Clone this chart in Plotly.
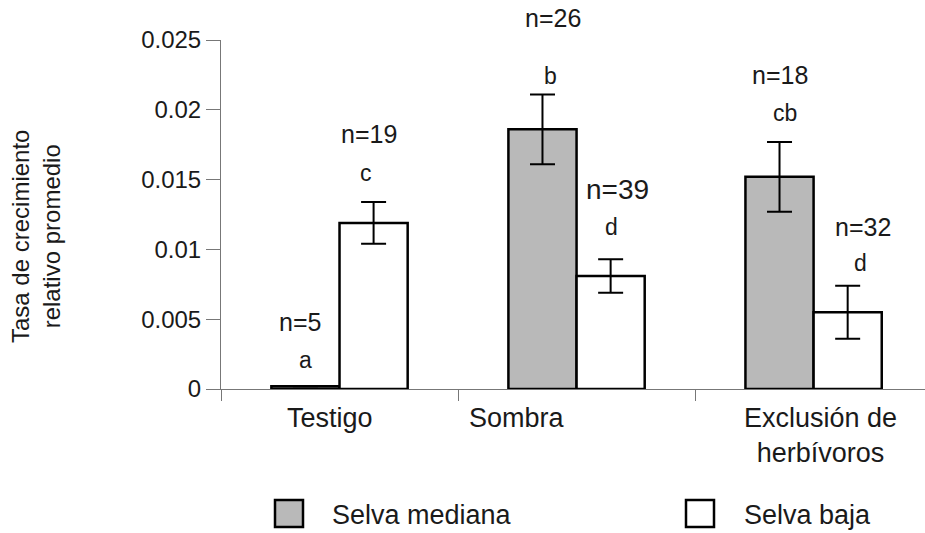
import plotly.graph_objects as go

# ---- data ----
categories = ["Testigo", "Sombra", "Exclusión de<br>herbívoros"]
series_names = ["Selva mediana", "Selva baja"]
mediana_vals = [0.0002, 0.0186, 0.0152]
mediana_err = [None, 0.0025, 0.0025]
baja_vals = [0.0119, 0.0081, 0.0055]
baja_err = [0.0015, 0.0012, 0.0019]
mediana_letters = ["a", "b", "cb"]
baja_letters = ["c", "d", "d"]
mediana_n = ["n=5", "n=26", "n=18"]
baja_n = ["n=19", "n=39", "n=32"]
y_ticks = [0, 0.005, 0.01, 0.015, 0.02, 0.025]
y_ticktext = ["0", "0.005", "0.01", "0.015", "0.02", "0.025"]
Y_MAX = 0.025

# label heights (data units)
mediana_letter_y = [0.0021, 0.0224, 0.0198]
baja_letter_y = [0.0155, 0.0116, 0.0090]
mediana_n_y = [0.0048, 0.0266, 0.0225]
baja_n_y = [0.0183, 0.0143, 0.0116]

W, H = 925, 533
L, R, T, B = 221, 0, 40, 144
PW, PH = W - L - R, H - T - B
FONT = "Liberation Sans, Arial, Helvetica, sans-serif"
TXT = "#1a1a1a"
GRAY = "#b9b9b9"
AX = "#777777"

x = list(range(len(categories)))
BARGAP = 0.425
half = (1 - BARGAP) / 4  # offset of each bar centre from category centre

fig = go.Figure()
fig.add_trace(go.Bar(
    x=x, y=mediana_vals, name=series_names[0],
    marker=dict(color=GRAY, line=dict(color="black", width=2.5)),
    error_y=dict(type="data", array=mediana_err, visible=True,
                 color="black", thickness=2, width=12.5),
))
fig.add_trace(go.Bar(
    x=x, y=baja_vals, name=series_names[1],
    marker=dict(color="white", line=dict(color="black", width=2.5)),
    error_y=dict(type="data", array=baja_err, visible=True,
                 color="black", thickness=2, width=12.5),
))

ann = []
# significance letters and n labels (y given in data units, drawn in axis-domain fraction)
mx_shift_letter = [0, 8, 5]
mx_shift_n = [-5, 11, 0]
bx_shift_letter = [-8, 1, 13]
bx_shift_n = [-5, 7, 15]
for i in x:
    ann.append(dict(x=i - half, y=mediana_letter_y[i] / Y_MAX, text=mediana_letters[i],
                    xshift=mx_shift_letter[i], font=dict(size=23)))
    ann.append(dict(x=i - half, y=mediana_n_y[i] / Y_MAX, text=mediana_n[i],
                    xshift=mx_shift_n[i], font=dict(size=25)))
    ann.append(dict(x=i + half, y=baja_letter_y[i] / Y_MAX, text=baja_letters[i],
                    xshift=bx_shift_letter[i], font=dict(size=23)))
    ann.append(dict(x=i + half, y=baja_n_y[i] / Y_MAX, text=baja_n[i],
                    xshift=bx_shift_n[i], font=dict(size=28 if i == 1 else 25)))
for a in ann:
    a.update(xref="x", yref="paper", showarrow=False, yanchor="middle",
             xanchor="center")

# category labels
cat_label_x = [-0.04, 0.75, 2.03]
for i, c in enumerate(categories):
    ann.append(dict(x=cat_label_x[i], y=0, xref="x", yref="paper", text=c,
                    showarrow=False, yanchor="top", xanchor="center", yshift=-12,
                    font=dict(size=27)))


def px_x(p):
    return (p - L) / PW


def px_y(p):
    return (H - B - p) / PH


# y-axis title
ann.append(dict(x=px_x(36), y=px_y(237), xref="paper", yref="paper",
                xanchor="center", yanchor="middle",
                text="Tasa de crecimiento<br>relativo promedio", textangle=-90,
                showarrow=False, font=dict(size=24)))

# manual legend
shapes = []
legend_items = [(275, 303, 330, GRAY), (686, 714, 742, "white")]
for (x0, x1, tx, col), name in zip(legend_items, series_names):
    shapes.append(dict(type="rect", xref="paper", yref="paper",
                       x0=px_x(x0), x1=px_x(x1), y0=px_y(527), y1=px_y(500),
                       fillcolor=col, line=dict(color="black", width=2.5)))
    ann.append(dict(x=px_x(tx), y=px_y(515), xref="paper", yref="paper",
                    text=name, showarrow=False, xanchor="left",
                    yanchor="middle", font=dict(size=27)))

fig.update_layout(
    width=W, height=H,
    margin=dict(l=L, r=R, t=T, b=B, pad=0),
    paper_bgcolor="white", plot_bgcolor="white",
    barmode="group", bargap=BARGAP, bargroupgap=0,
    showlegend=False,
    font=dict(family=FONT, color=TXT, size=22),
    annotations=ann, shapes=shapes,
    xaxis=dict(range=[-0.5, 2.47], tickvals=[-0.5, 0.5, 1.5], ticktext=["", "", ""],
               ticks="outside", ticklen=11, tickcolor=AX, tickwidth=1,
               showline=True, linecolor=AX, linewidth=1, showgrid=False,
               zeroline=False),
    yaxis=dict(range=[0, Y_MAX], tickvals=y_ticks, ticktext=y_ticktext,
               ticks="outside", ticklen=14, tickcolor=AX, tickwidth=1,
               showline=True, linecolor=AX, linewidth=1, showgrid=False,
               zeroline=False, tickfont=dict(size=24, color=TXT)),
)
fig.update_traces(cliponaxis=False)
fig.write_html("out.html")
